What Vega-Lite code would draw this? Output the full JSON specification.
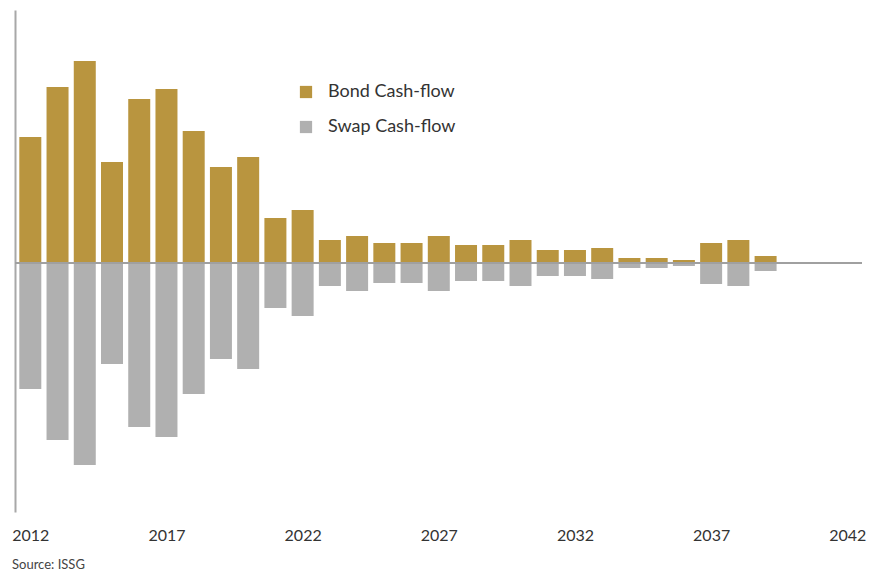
{
  "$schema": "https://vega.github.io/schema/vega-lite/v6.json",
  "width": 847,
  "height": 502,
  "autosize": {"type": "none"},
  "padding": {"left": 15, "top": 10, "right": 26, "bottom": 61},
  "background": "white",
  "config": {
    "view": {"stroke": null},
    "font": "Lato"
  },
  "title": {
    "text": "Source: ISSG",
    "orient": "bottom",
    "anchor": "start",
    "frame": "group",
    "fontSize": 13,
    "fontWeight": "normal",
    "color": "#444444",
    "font": "Lato",
    "offset": 16,
    "dx": -3
  },
  "data": {
    "values": [
      {"year": 2012, "type": "Bond Cash-flow", "value": 126},
      {"year": 2013, "type": "Bond Cash-flow", "value": 176},
      {"year": 2014, "type": "Bond Cash-flow", "value": 202},
      {"year": 2015, "type": "Bond Cash-flow", "value": 101},
      {"year": 2016, "type": "Bond Cash-flow", "value": 164},
      {"year": 2017, "type": "Bond Cash-flow", "value": 174},
      {"year": 2018, "type": "Bond Cash-flow", "value": 132},
      {"year": 2019, "type": "Bond Cash-flow", "value": 96},
      {"year": 2020, "type": "Bond Cash-flow", "value": 106},
      {"year": 2021, "type": "Bond Cash-flow", "value": 45},
      {"year": 2022, "type": "Bond Cash-flow", "value": 53},
      {"year": 2023, "type": "Bond Cash-flow", "value": 23},
      {"year": 2024, "type": "Bond Cash-flow", "value": 27},
      {"year": 2025, "type": "Bond Cash-flow", "value": 20},
      {"year": 2026, "type": "Bond Cash-flow", "value": 20},
      {"year": 2027, "type": "Bond Cash-flow", "value": 27},
      {"year": 2028, "type": "Bond Cash-flow", "value": 18},
      {"year": 2029, "type": "Bond Cash-flow", "value": 18},
      {"year": 2030, "type": "Bond Cash-flow", "value": 23},
      {"year": 2031, "type": "Bond Cash-flow", "value": 13},
      {"year": 2032, "type": "Bond Cash-flow", "value": 13},
      {"year": 2033, "type": "Bond Cash-flow", "value": 15},
      {"year": 2034, "type": "Bond Cash-flow", "value": 5},
      {"year": 2035, "type": "Bond Cash-flow", "value": 5},
      {"year": 2036, "type": "Bond Cash-flow", "value": 3},
      {"year": 2037, "type": "Bond Cash-flow", "value": 20},
      {"year": 2038, "type": "Bond Cash-flow", "value": 23},
      {"year": 2039, "type": "Bond Cash-flow", "value": 7},
      {"year": 2012, "type": "Swap Cash-flow", "value": -126},
      {"year": 2013, "type": "Swap Cash-flow", "value": -177},
      {"year": 2014, "type": "Swap Cash-flow", "value": -202},
      {"year": 2015, "type": "Swap Cash-flow", "value": -101},
      {"year": 2016, "type": "Swap Cash-flow", "value": -164},
      {"year": 2017, "type": "Swap Cash-flow", "value": -174},
      {"year": 2018, "type": "Swap Cash-flow", "value": -131},
      {"year": 2019, "type": "Swap Cash-flow", "value": -96},
      {"year": 2020, "type": "Swap Cash-flow", "value": -106},
      {"year": 2021, "type": "Swap Cash-flow", "value": -45},
      {"year": 2022, "type": "Swap Cash-flow", "value": -53},
      {"year": 2023, "type": "Swap Cash-flow", "value": -23},
      {"year": 2024, "type": "Swap Cash-flow", "value": -28},
      {"year": 2025, "type": "Swap Cash-flow", "value": -20},
      {"year": 2026, "type": "Swap Cash-flow", "value": -20},
      {"year": 2027, "type": "Swap Cash-flow", "value": -28},
      {"year": 2028, "type": "Swap Cash-flow", "value": -18},
      {"year": 2029, "type": "Swap Cash-flow", "value": -18},
      {"year": 2030, "type": "Swap Cash-flow", "value": -23},
      {"year": 2031, "type": "Swap Cash-flow", "value": -13},
      {"year": 2032, "type": "Swap Cash-flow", "value": -13},
      {"year": 2033, "type": "Swap Cash-flow", "value": -16},
      {"year": 2034, "type": "Swap Cash-flow", "value": -5},
      {"year": 2035, "type": "Swap Cash-flow", "value": -5},
      {"year": 2036, "type": "Swap Cash-flow", "value": -3},
      {"year": 2037, "type": "Swap Cash-flow", "value": -21},
      {"year": 2038, "type": "Swap Cash-flow", "value": -23},
      {"year": 2039, "type": "Swap Cash-flow", "value": -8}
    ]
  },
  "layer": [
    {
      "mark": {"type": "bar", "width": 22},
      "encoding": {
        "x": {
          "field": "year",
          "type": "quantitative",
          "scale": {"domain": [2011.438, 2042.54], "nice": false, "zero": false, "padding": 0},
          "axis": {
            "title": null,
            "values": [2012, 2017, 2022, 2027, 2032, 2037, 2042],
            "format": "d",
            "domain": false,
            "ticks": false,
            "grid": false,
            "labelFontSize": 16,
            "labelColor": "#333333",
            "labelPadding": 15,
            "labelFont": "Lato"
          }
        },
        "y": {
          "field": "value",
          "type": "quantitative",
          "scale": {"domain": [-249, 253], "nice": false, "padding": 0},
          "axis": {
            "title": null,
            "labels": false,
            "ticks": false,
            "grid": false,
            "domain": true,
            "domainColor": "#A8A8A8",
            "domainWidth": 2
          }
        },
        "color": {
          "field": "type",
          "type": "nominal",
          "scale": {"domain": ["Bond Cash-flow", "Swap Cash-flow"], "range": ["#B9953F", "#B0B0B0"]},
          "legend": {
            "title": null,
            "orient": "none",
            "legendX": 282,
            "legendY": 73,
            "symbolType": "square",
            "symbolSize": 150,
            "symbolOpacity": 1,
            "labelFontSize": 18,
            "labelColor": "#333333",
            "labelFont": "Lato",
            "labelOffset": 13,
            "rowPadding": 17
          }
        }
      }
    },
    {
      "mark": {"type": "rule", "color": "#A0A0A0", "strokeWidth": 2},
      "encoding": {"y": {"datum": 0}}
    }
  ]
}
